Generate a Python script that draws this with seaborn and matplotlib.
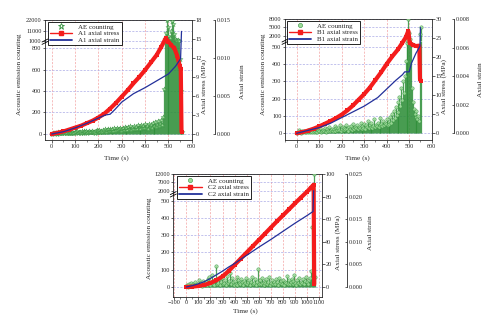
import numpy as np
import pandas as pd
import matplotlib
matplotlib.use("Agg")
import matplotlib.pyplot as plt
from matplotlib.lines import Line2D
from matplotlib.ticker import MultipleLocator, FormatStrFormatter
import seaborn as sns

# ---------------- data ----------------
# Specimen A1
a_ae_time = np.arange(0, 557, 4)
a_ae_count = [3, 8, 5, 12, 6, 10, 4, 15, 9, 7,
              11, 6, 14, 9, 18, 7, 12, 20, 10, 13,
              16, 9, 22, 12, 8, 19, 14, 25, 11, 17,
              21, 13, 28, 10, 18, 24, 15, 30, 12, 20,
              26, 14, 19, 32, 16, 23, 12, 28, 35, 18,
              25, 40, 20, 30, 15, 38, 27, 45, 22, 33,
              42, 28, 50, 24, 36, 48, 30, 55, 26, 40,
              52, 35, 44, 60, 32, 47, 58, 38, 65, 41,
              55, 36, 62, 48, 70, 40, 58, 45, 75, 50,
              64, 42, 80, 55, 68, 46, 85, 52, 72, 60,
              90, 58, 75, 48, 95, 66, 82, 54, 100, 70,
              78, 110, 62, 88, 120, 72, 96, 130, 85, 160,
              420, 2500, 9000, 22000, 15000, 6000, 1200, 4000, 11000, 21000,
              18000, 8000, 3000, 1500, 900, 2200, 950, 700, 400, 20]
a_stress_time = [0, 25, 50, 75, 100, 125, 150, 175, 200, 225, 250, 275, 300, 325,
                 350, 375, 400, 425, 450, 470, 488, 500, 512, 525, 538, 548, 553, 556]
a_stress = [0, 0.2, 0.4, 0.7, 1.0, 1.3, 1.7, 2.1, 2.6, 3.2, 4.0, 4.9, 5.9, 6.9,
            8.0, 9.0, 10.1, 11.3, 12.5, 13.8, 15.1, 14.6, 14.0, 13.6, 12.3, 10.8, 10.2, 0.3]
a_strain_time = [0, 50, 100, 150, 200, 230, 250, 270, 300, 350, 400, 450, 500, 530, 552, 556]
a_strain = [0, 0.0003, 0.0008, 0.0014, 0.0021, 0.0025, 0.0026, 0.0032, 0.0042, 0.0053,
            0.0061, 0.0070, 0.0079, 0.0089, 0.0099, 0.0135]

# Specimen B1
b_ae_time = np.arange(0, 553, 4)
b_ae_count = [2, 10, 5, 18, 8, 4, 12, 6, 15, 9,
              7, 14, 5, 20, 11, 8, 16, 6, 22, 10,
              13, 7, 25, 9, 18, 12, 28, 8, 15, 20,
              11, 30, 14, 9, 24, 16, 35, 12, 19, 26,
              15, 22, 40, 13, 28, 18, 33, 20, 45, 16,
              25, 38, 18, 30, 22, 50, 27, 15, 36, 24,
              42, 20, 32, 55, 25, 38, 28, 47, 22, 35,
              30, 60, 26, 40, 33, 52, 24, 45, 36, 70,
              28, 48, 38, 58, 30, 44, 80, 35, 50, 42,
              62, 38, 90, 45, 55, 40, 72, 48, 60, 52,
              85, 46, 68, 55, 95, 60, 110, 75, 130, 90,
              150, 105, 180, 125, 210, 160, 260, 190, 300, 230,
              330, 420, 520, 600, 8000, 3000, 700, 520, 260, 180,
              140, 110, 95, 130, 80, 100, 70, 2500, 5000]
b_stress_time = [0, 25, 50, 75, 100, 125, 150, 175, 200, 225, 250, 275, 300, 325,
                 350, 375, 400, 425, 450, 470, 485, 496, 502, 515, 530, 545, 548, 552]
b_stress = [0, 0.3, 0.7, 1.2, 1.8, 2.5, 3.2, 4.0, 4.9, 6.0, 7.3, 8.8, 10.3, 12.0,
            14.0, 16.0, 18.2, 20.2, 22.0, 23.8, 25.2, 26.9, 23.8, 23.2, 22.9, 23.0, 14.2, 13.8]
b_strain_time = [0, 50, 100, 150, 200, 250, 300, 330, 360, 400, 440, 470, 480, 490,
                 500, 510, 530, 548, 550]
b_strain = [0, 0.0002, 0.0004, 0.0007, 0.0011, 0.0015, 0.0019, 0.0022, 0.0025, 0.0031,
            0.0037, 0.0041, 0.0043, 0.0043, 0.0043, 0.0049, 0.0056, 0.0061, 0.0074]

# Specimen C2
c_ae_time = np.arange(0, 1065, 8)
c_ae_count = [5, 12, 3, 18, 8, 25, 6, 15, 10, 30,
              9, 20, 14, 40, 11, 22, 8, 35, 16, 12,
              28, 10, 45, 18, 60, 14, 32, 70, 20, 12,
              38, 120, 15, 26, 48, 10, 30, 55, 18, 24,
              42, 14, 65, 22, 36, 80, 16, 50, 28, 12,
              34, 20, 58, 14, 40, 26, 18, 45, 30, 10,
              36, 22, 50, 15, 28, 40, 12, 32, 60, 18,
              26, 44, 14, 30, 105, 20, 38, 16, 52, 24,
              12, 35, 22, 48, 18, 30, 60, 14, 26, 40,
              20, 32, 15, 45, 28, 12, 55, 22, 36, 18,
              42, 14, 30, 24, 65, 16, 38, 20, 28, 46,
              18, 34, 70, 22, 12, 40, 26, 50, 16, 30,
              24, 45, 18, 36, 60, 28, 20, 42, 55, 90,
              350, 2500, 12000, 60]
c_stress_time = [0, 50, 100, 150, 200, 250, 300, 350, 400, 450, 500, 550, 600, 650,
                 700, 750, 800, 850, 900, 950, 1000, 1030, 1055, 1060]
c_stress = [0, 0.3, 0.9, 1.9, 3.5, 6.0, 9.4, 14.0, 19.5, 25.0, 30.5, 36.0, 41.5, 47.0,
            52.5, 58.0, 63.3, 68.6, 74.0, 79.2, 84.3, 87.7, 90.5, 2.5]
c_strain_time = [0, 50, 100, 150, 200, 250, 300, 350, 400, 500, 600, 700, 800, 900,
                 1000, 1050, 1055]
c_strain = [0, 0.0003, 0.0007, 0.0012, 0.0019, 0.0027, 0.0035, 0.0044, 0.0052, 0.0070,
            0.0088, 0.0105, 0.0123, 0.0141, 0.0158, 0.0167, 0.0213]

# ---------------- style ----------------
sns.set_theme(style="ticks")
plt.rcParams["font.family"] = ["Liberation Serif", "DejaVu Serif"]
plt.rcParams["axes.linewidth"] = 0.6
plt.rcParams["xtick.major.width"] = 0.5
plt.rcParams["ytick.major.width"] = 0.5
plt.rcParams["xtick.minor.width"] = 0.4

W_PX, H_PX = 500, 332
TICK_FS = 4.4
LABEL_FS = 5.2
GREEN_DARK = "#2f8f3a"
GREEN_FACE = "#9fdc9a"
RED = "#f41c1c"
BLUE = "#23309a"
VGRID = "#f3a2a2"
HGRID = "#a9a9e6"

fig = plt.figure(figsize=(W_PX / 100, H_PX / 100), dpi=100)


def frac(x, y):
    return x / W_PX, 1 - y / H_PX


def rect(l, r, t, b):
    return [l / W_PX, 1 - b / H_PX, (r - l) / W_PX, (b - t) / H_PX]


def style_ticks(ax):
    ax.tick_params(labelsize=TICK_FS, length=1.8, pad=0.8, direction="out")


def draw_panel(p):
    L, R, T, B, brk = p["box"]
    ax_lo = fig.add_axes(rect(L, R, brk, B))
    ax_hi = fig.add_axes(rect(L, R, T, brk), sharex=ax_lo)
    ax_s = fig.add_axes(rect(L, R, T, B), sharex=ax_lo)
    ax_e = fig.add_axes(rect(L, R, T, B), sharex=ax_lo)

    ae = pd.DataFrame({"t": p["ae_t"], "n": p["ae_n"]})
    for ax, ylim in ((ax_lo, p["lo_lim"]), (ax_hi, p["hi_lim"])):
        ax.set_facecolor("none")
        ax.grid(axis="x", color=VGRID, lw=0.5, ls=(0, (3, 2)))
        ax.grid(axis="y", color=HGRID, lw=0.5, ls=(0, (3, 2)))
        # points below the lower panel's top belong to the lower panel only
        part = ae if ax is ax_lo else ae[ae["n"] > p["lo_lim"][1]]
        ax.vlines(part["t"], 0, part["n"], color=GREEN_DARK, lw=0.9, alpha=0.85, zorder=2)
        sns.scatterplot(data=part, x="t", y="n", ax=ax, marker=p["ae_marker"],
                        s=p["ae_size"], color=GREEN_FACE, edgecolor=GREEN_DARK,
                        linewidth=0.4, alpha=0.8, legend=False, zorder=3)
        ax.set_ylim(*ylim)
        ax.set_xlabel("")
        ax.set_ylabel("")
        ax.spines["right"].set_visible(False)
        style_ticks(ax)

    ax_lo.set_xlim(*p["xlim"])
    ax_lo.set_xticks(p["xticks"])
    ax_lo.xaxis.set_minor_locator(MultipleLocator(50))
    ax_lo.tick_params(axis="x", which="minor", length=1.2, direction="out")
    ax_lo.set_yticks(p["lo_ticks"])
    ax_lo.spines["top"].set_visible(False)

    ax_hi.set_yticks(p["hi_ticks"])
    ax_hi.spines["bottom"].set_visible(False)
    ax_hi.tick_params(axis="x", which="both", bottom=False, labelbottom=False)

    # axial stress
    sdf = pd.DataFrame({"t": p["s_t"], "s": p["s"]})
    sns.lineplot(data=sdf, x="t", y="s", ax=ax_s, color=RED, lw=3.0, marker="s",
                 markersize=2.6, markeredgewidth=0, estimator=None, sort=False,
                 legend=False, zorder=4)
    ax_s.set_ylim(*p["s_lim"])
    ax_s.set_yticks(p["s_ticks"])
    ax_s.set_facecolor("none")
    ax_s.yaxis.tick_right()
    for side in ("left", "top", "bottom"):
        ax_s.spines[side].set_visible(False)
    ax_s.xaxis.set_visible(False)
    ax_s.set_ylabel("")
    style_ticks(ax_s)

    # axial strain on an offset spine
    edf = pd.DataFrame({"t": p["e_t"], "e": p["e"]})
    sns.lineplot(data=edf, x="t", y="e", ax=ax_e, color=BLUE, lw=0.9,
                 estimator=None, sort=False, legend=False, zorder=5)
    ax_e.set_ylim(*p["e_lim"])
    ax_e.set_yticks(p["e_ticks"])
    ax_e.yaxis.set_major_formatter(FormatStrFormatter("%.3f"))
    ax_e.set_facecolor("none")
    ax_e.patch.set_visible(False)
    ax_e.yaxis.tick_right()
    for side in ("left", "top", "bottom"):
        ax_e.spines[side].set_visible(False)
    ax_e.spines["right"].set_position(("outward", p["e_offset"] * 0.72))
    ax_e.spines["right"].set_bounds(0, p["e_ticks"][-1])
    ax_e.xaxis.set_visible(False)
    ax_e.set_ylabel("")
    ax_e.tick_params(labelsize=TICK_FS, length=1.8, pad=1.5, direction="in")

    # break symbol on the left spine
    for dy in (-1.2, 1.2):
        x0, y0 = frac(L - 3, brk + dy + 1.5)
        x1, y1 = frac(L + 3, brk + dy - 1.5)
        fig.add_artist(Line2D([x0, x1], [y0, y1], color="black", lw=0.6))

    # axis titles
    labels = p["labels"]
    fig.text(*frac(*labels["ae"]), "Acoustic emission counting", rotation=90,
             ha="center", va="center", fontsize=LABEL_FS)
    fig.text(*frac(*labels["s"]), "Axial stress (MPa)", rotation=90,
             ha="center", va="center", fontsize=LABEL_FS)
    fig.text(*frac(*labels["e"]), "Axial strain", rotation=90,
             ha="center", va="center", fontsize=LABEL_FS)
    fig.text(*frac(*labels["t"]), "Time (s)", ha="center", va="center",
             fontsize=LABEL_FS)

    # legend
    if p["ae_marker"] == "*":
        ae_handle = Line2D([], [], ls="none", marker="*", markersize=5,
                           mfc="none", mec=GREEN_DARK, mew=0.6)
    else:
        ae_handle = Line2D([], [], ls="none", marker="o", markersize=3,
                           mfc=GREEN_FACE, mec=GREEN_DARK, mew=0.4)
    handles = [ae_handle,
               Line2D([], [], color=RED, lw=1.0, marker="s", markersize=2.5),
               Line2D([], [], color=BLUE, lw=1.3)]
    names = ["AE counting", p["name"] + " axial stress", p["name"] + " axial strain"]
    leg = fig.legend(handles, names, loc="upper left",
                     bbox_to_anchor=frac(*p["legend_at"]),
                     bbox_transform=fig.transFigure, frameon=True, fancybox=False,
                     edgecolor="black", framealpha=1, fontsize=5, borderpad=0.3,
                     labelspacing=0.12, handlelength=3.2, handletextpad=0.9,
                     borderaxespad=0)
    leg.get_frame().set_linewidth(0.6)


panels = [
    dict(name="A1", box=(45, 192, 20, 140, 41.7), xlim=(-29, 601),
         xticks=[0, 100, 200, 300, 400, 500, 600],
         ae_t=a_ae_time, ae_n=a_ae_count, ae_marker="*", ae_size=14,
         lo_lim=(-56, 859), lo_ticks=[0, 200, 400, 600, 800],
         hi_lim=(0, 22000), hi_ticks=[1000, 11000, 22000],
         s_t=a_stress_time, s=a_stress, s_lim=(-0.95, 18),
         s_ticks=[0, 3, 6, 9, 12, 15, 18],
         e_t=a_strain_time, e=a_strain, e_lim=(-0.00079, 0.015),
         e_ticks=[0.0, 0.005, 0.010, 0.015], e_offset=23,
         labels=dict(ae=(20, 74), s=(204, 86), e=(243, 82), t=(116, 158)),
         legend_at=(47.7, 21.7)),
    dict(name="B1", box=(285, 431.7, 19, 140, 41.7), xlim=(-52, 600),
         xticks=[0, 100, 200, 300, 400, 500, 600],
         ae_t=b_ae_time, ae_n=b_ae_count, ae_marker="o", ae_size=6,
         lo_lim=(-38.7, 528.6), lo_ticks=[0, 100, 200, 300, 400, 500],
         hi_lim=(-200, 8100), hi_ticks=[2000, 5000, 8000],
         s_t=b_stress_time, s=b_stress, s_lim=(-1.76, 30),
         s_ticks=[0, 5, 10, 15, 20, 25, 30],
         e_t=b_strain_time, e=b_strain, e_lim=(-0.00047, 0.008),
         e_ticks=[0.0, 0.002, 0.004, 0.006, 0.008], e_offset=22,
         labels=dict(ae=(263, 74), s=(444, 87), e=(481, 80), t=(357, 158)),
         legend_at=(286.7, 20.7)),
    dict(name="C2", box=(173.3, 321.7, 174, 296.7, 194.3), xlim=(-108, 1122),
         xticks=list(range(-100, 1101, 100)),
         ae_t=c_ae_time, ae_n=c_ae_count, ae_marker="o", ae_size=6,
         lo_lim=(-56, 537), lo_ticks=[0, 100, 200, 300, 400, 500],
         hi_lim=(0, 12000), hi_ticks=[2000, 7000, 12000],
         s_t=c_stress_time, s=c_stress, s_lim=(-8.6, 100),
         s_ticks=[0, 20, 40, 60, 80, 100],
         e_t=c_strain_time, e=c_strain, e_lim=(-0.00215, 0.025),
         e_ticks=[0.0, 0.005, 0.010, 0.015, 0.020, 0.025], e_offset=25,
         labels=dict(ae=(149, 238), s=(338.5, 243), e=(371, 233), t=(245, 311)),
         legend_at=(177.3, 175.7)),
]

for panel in panels:
    draw_panel(panel)

fig.savefig("out.png", dpi=100)
